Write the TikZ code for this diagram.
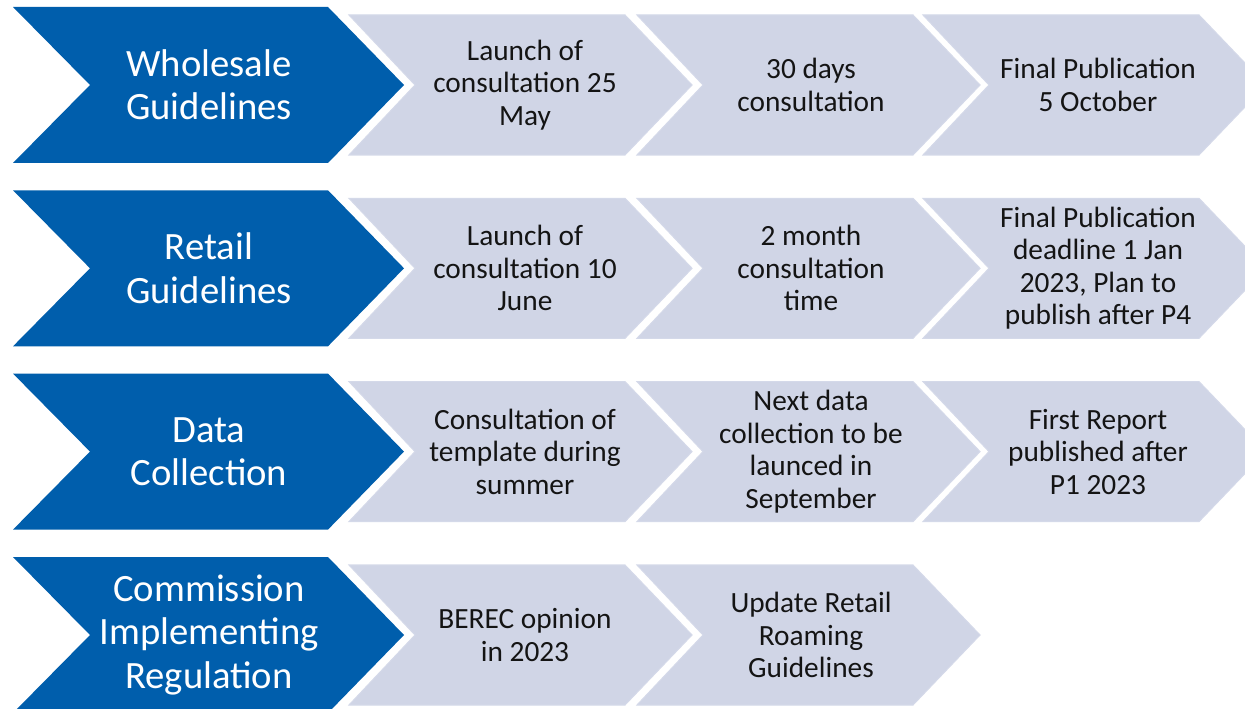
\documentclass[tikz,border=0pt]{standalone}
\usepackage{fontspec}
\setmainfont{Carlito}
\definecolor{darkblue}{RGB}{0,94,172}
\definecolor{lightchev}{RGB}{208,213,230}
\definecolor{lightedge}{RGB}{212,217,233}
\definecolor{textdark}{RGB}{20,20,20}
\tikzset{
  darkchev/.style={fill=darkblue, draw=none},
  lightchevron/.style={fill=lightchev, draw=lightedge, line width=0.8pt},
  darklabel/.style={text=white, align=center, inner sep=0pt, font=\fontsize{29}{32.5}\selectfont},
  lightlabel/.style={text=textdark, align=center, inner sep=0pt, font=\fontsize{22}{24.4}\selectfont},
}
\newcommand\darkchevron[1]{%
  \path[darkchev] (13,7+#1) -- (328,7+#1) -- (404,85+#1) -- (328,163+#1) -- (13,163+#1) -- (90,85+#1) -- cycle;}
\newcommand\lightchevshape[2]{%
  \path[lightchevron] (#1,15+#2) -- (#1+276,15+#2) -- (#1+343,85+#2) -- (#1+276,155+#2) -- (#1,155+#2) -- (#1+66,85+#2) -- cycle;}
\begin{document}
\begin{tikzpicture}[x=0.75pt,y=-0.75pt]
\useasboundingbox (0,0) rectangle (1245,709);
\clip (0,0) rectangle (1245,709);
\fill[white] (0,0) rectangle (1245,709);
% row 1
\darkchevron{0}
\lightchevshape{349}{0}
\lightchevshape{637}{0}
\lightchevshape{923}{0}
\node[darklabel] (h1) at (209,85) {Wholesale\\Guidelines};
\node[lightlabel] (a1) at (525,85) {Launch of\\consultation 25\\May};
\node[lightlabel] (b1) at (811,85) {30 days\\consultation};
\node[lightlabel] (c1) at (1098,85) {Final Publication\\5 October};
% row 2
\darkchevron{183.3}
\lightchevshape{349}{183.3}
\lightchevshape{637}{183.3}
\lightchevshape{923}{183.3}
\node[darklabel] (h2) at (209,268.3) {Retail\\Guidelines};
\node[lightlabel] (a2) at (525,268.3) {Launch of\\consultation 10\\June};
\node[lightlabel] (b2) at (811,268.3) {2 month\\consultation\\time};
\node[lightlabel] (c2) at (1098,268.3) {Final Publication\\deadline 1 Jan\\2023, Plan to\\publish after P4};
% row 3
\darkchevron{366.6}
\lightchevshape{349}{366.6}
\lightchevshape{637}{366.6}
\lightchevshape{923}{366.6}
\node[darklabel] (h3) at (209,451.6) {Data\\Collection};
\node[lightlabel] (a3) at (525,451.6) {Consultation of\\template during\\summer};
\node[lightlabel] (b3) at (811,451.6) {Next data\\collection to be\\launced in\\September};
\node[lightlabel] (c3) at (1098,451.6) {First Report\\published after\\P1 2023};
% row 4
\darkchevron{550}
\lightchevshape{349}{550}
\lightchevshape{637}{550}
\node[darklabel] (h4) at (209,635) {Commission\\Implementing\\Regulation};
\node[lightlabel] (a4) at (525,635) {BEREC opinion\\in 2023};
\node[lightlabel] (b4) at (811,635) {Update Retail\\Roaming\\Guidelines};
\end{tikzpicture}
\end{document}
